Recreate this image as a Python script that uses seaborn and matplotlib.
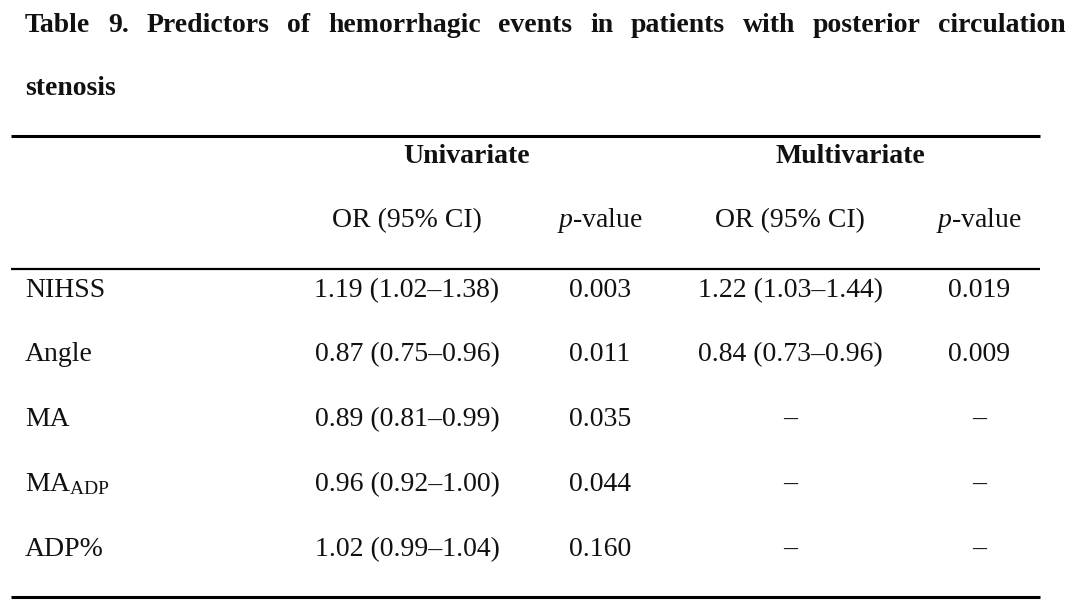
import matplotlib
matplotlib.use("Agg")
import matplotlib.pyplot as plt
import seaborn as sns

# ---- data ----
title_line1 = "Table 9. Predictors of hemorrhagic events in patients with posterior circulation"
title_line2 = "stenosis"
group_headers = ["Univariate", "Multivariate"]
sub_headers = ["OR (95% CI)", "$p$-value", "OR (95% CI)", "$p$-value"]
variables = ["NIHSS", "Angle", "MA", r"MA$_{\mathrm{ADP}}$", "ADP%"]
uni_or = ["1.19 (1.02–1.38)", "0.87 (0.75–0.96)", "0.89 (0.81–0.99)",
          "0.96 (0.92–1.00)", "1.02 (0.99–1.04)"]
uni_p = ["0.003", "0.011", "0.035", "0.044", "0.160"]
multi_or = ["1.22 (1.03–1.44)", "0.84 (0.73–0.96)", "–", "–", "–"]
multi_p = ["0.019", "0.009", "–", "–", "–"]

# ---- style ----
sns.set_theme(style="white")
plt.rcParams["font.family"] = ["Liberation Serif", "DejaVu Serif"]
plt.rcParams["mathtext.fontset"] = "custom"
plt.rcParams["mathtext.rm"] = "Liberation Serif"
plt.rcParams["mathtext.it"] = "Liberation Serif:italic"
plt.rcParams["mathtext.bf"] = "Liberation Serif:bold"

FS = 20
INK = "#111111"

fig = plt.figure(figsize=(10.8, 6.07), dpi=100)
ax = fig.add_axes([0, 0, 1, 1])
ax.set_xlim(0, 1080)
ax.set_ylim(607, 0)
ax.axis("off")

# ---- justified title line 1 ----
fig.canvas.draw()
renderer = fig.canvas.get_renderer()
words = title_line1.split()
texts = [ax.text(0, 32, w, fontsize=FS, fontweight="bold", color=INK,
                 ha="left", va="baseline") for w in words]
widths = []
inv = ax.transData.inverted()
for t in texts:
    bb = t.get_window_extent(renderer)
    x0 = inv.transform((bb.x0, bb.y0))[0]
    x1 = inv.transform((bb.x1, bb.y0))[0]
    widths.append(x1 - x0)
left, right = 25, 1066
gap = (right - left - sum(widths)) / (len(words) - 1)
x = left
for t, w in zip(texts, widths):
    t.set_x(x)
    x += w + gap
ax.text(25, 95, title_line2, fontsize=FS, fontweight="bold", color=INK,
        ha="left", va="baseline")

# ---- rules ----
ax.hlines([136, 269, 597], 11, 1040, colors="black", linewidth=[2.2, 1.6, 2.2])

# ---- headers ----
group_x = [467, 850]
for g, gx in zip(group_headers, group_x):
    ax.text(gx, 163, g, fontsize=FS, fontweight="bold", color=INK,
            ha="center", va="baseline")
col_x = [407, 600, 790, 979]
for h, cx in zip(sub_headers, col_x):
    ax.text(cx, 227, h, fontsize=FS, color=INK, ha="center", va="baseline")

# ---- body ----
row_y = [297, 361, 426, 491, 556]
for i, y in enumerate(row_y):
    ax.text(25, y, variables[i], fontsize=FS, color=INK, ha="left", va="baseline")
    for cx, col in zip(col_x, [uni_or, uni_p, multi_or, multi_p]):
        ax.text(cx, y, col[i], fontsize=FS, color=INK, ha="center", va="baseline")

fig.savefig("out.png", dpi=100)
